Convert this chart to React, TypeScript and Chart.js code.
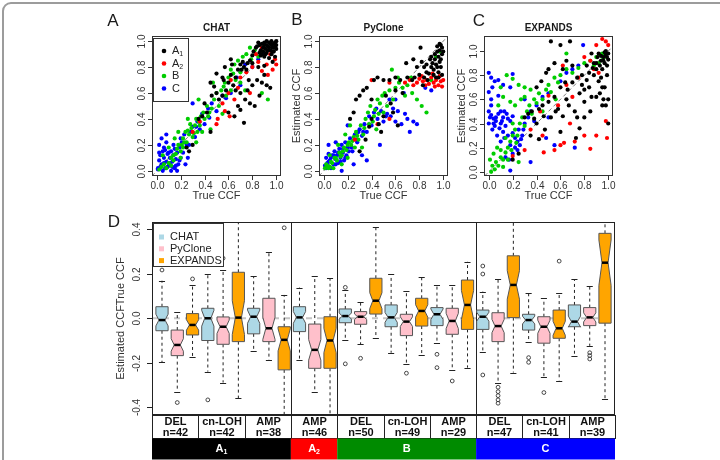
import React, { useEffect, useRef } from "react";
import { Chart, registerables } from "chart.js";

Chart.register(...registerables);

const W = 720;
const H = 460;
const FONT = "'Liberation Sans', Arial, Helvetica, sans-serif";
const INK = "#1a1a1a";

// ---------- Panels A-C: true vs estimated CCF, [true, estimated] ----------
const chatA1: number[][] = [
  [0.88, 0.98], [0.9, 0.99], [0.92, 1.0], [0.94, 0.99], [0.96, 1.0], [0.98, 0.98], [1.0, 1.0], [0.99, 0.96],
  [0.97, 0.95], [0.95, 0.93], [0.93, 0.96], [0.91, 0.94], [0.89, 0.95], [0.87, 0.93], [0.86, 0.97], [0.85, 0.99],
  [0.98, 0.92], [1.0, 0.94], [0.96, 0.9], [0.92, 0.91], [0.9, 0.88], [0.94, 0.87], [0.99, 0.88], [0.97, 0.84],
  [0.87, 0.89], [0.83, 0.95], [0.81, 0.92], [0.72, 0.84], [0.7, 0.82], [0.73, 0.8], [0.68, 0.78], [0.75, 0.78],
  [0.78, 0.85], [0.8, 0.83], [0.62, 0.74], [0.6, 0.68], [0.64, 0.66], [0.66, 0.62], [0.7, 0.6], [0.74, 0.55],
  [0.78, 0.52], [0.82, 0.5], [0.86, 0.58], [0.88, 0.68], [0.92, 0.66], [0.95, 0.64], [0.9, 0.74], [0.84, 0.7],
  [0.8, 0.66], [0.76, 0.62], [0.58, 0.62], [0.55, 0.58], [0.52, 0.55], [0.5, 0.6], [0.48, 0.65], [0.45, 0.68],
  [0.56, 0.7], [0.6, 0.45], [0.65, 0.42], [0.73, 0.37], [0.68, 0.5], [0.4, 0.52], [0.42, 0.45], [0.38, 0.42],
  [0.35, 0.4], [0.45, 0.3], [0.3, 0.2], [0.27, 0.15], [0.25, 0.18], [0.57, 0.8], [0.62, 0.86], [0.5, 0.75],
  [0.55, 0.72], [0.46, 0.58], [0.66, 0.72], [0.77, 0.7], [0.9, 0.81], [0.7, 0.47],
  [0.84, 0.96], [0.86, 0.91], [0.88, 0.9], [0.9, 0.97], [0.92, 0.97], [0.94, 0.95], [0.96, 0.97], [0.98, 0.95],
  [1.0, 0.97], [0.99, 0.99], [0.95, 0.98], [0.93, 0.93], [0.91, 0.9], [0.97, 0.92], [0.89, 0.92], [0.8, 0.89],
  [0.76, 0.83], [0.71, 0.78], [0.85, 0.8], [0.63, 0.82],
];
const chatA2: number[][] = [
  [0.88, 0.95], [0.95, 0.9], [0.99, 0.86], [1.0, 0.82], [0.92, 0.82], [0.85, 0.84], [0.8, 0.8], [0.75, 0.76],
  [0.7, 0.72], [0.62, 0.7], [0.6, 0.6], [0.68, 0.64], [0.78, 0.6], [0.55, 0.52], [0.51, 0.4], [0.61, 0.42],
  [0.36, 0.38], [0.3, 0.3], [0.5, 0.36], [0.97, 0.78], [0.93, 0.74], [0.88, 0.77], [0.65, 0.55], [0.57, 0.46],
  [0.83, 0.9],
];
const chatB: number[][] = [
  [0.02, 0.01], [0.04, 0.03], [0.06, 0.05], [0.08, 0.02], [0.1, 0.06], [0.12, 0.1], [0.14, 0.08], [0.16, 0.13],
  [0.18, 0.2], [0.2, 0.15], [0.22, 0.25], [0.24, 0.3], [0.25, 0.22], [0.27, 0.28], [0.29, 0.33], [0.3, 0.26],
  [0.32, 0.35], [0.34, 0.3], [0.35, 0.38], [0.37, 0.42], [0.4, 0.4], [0.42, 0.5], [0.44, 0.45], [0.46, 0.48],
  [0.48, 0.55], [0.5, 0.6], [0.52, 0.5], [0.54, 0.62], [0.56, 0.65], [0.58, 0.58], [0.6, 0.72], [0.62, 0.78],
  [0.65, 0.82], [0.68, 0.85], [0.72, 0.88], [0.75, 0.9], [0.78, 0.95], [0.82, 0.93], [0.85, 0.88], [0.88, 0.6],
  [0.93, 0.55], [0.7, 0.68], [0.66, 0.7], [0.45, 0.32], [0.38, 0.3], [0.28, 0.36], [0.15, 0.25], [0.1, 0.18],
  [0.2, 0.1], [0.55, 0.44], [0.62, 0.62], [0.47, 0.68], [0.35, 0.55], [0.26, 0.4], [0.05, 0.12], [0.12, 0.04],
  [0.33, 0.22], [0.22, 0.18], [0.18, 0.3],
  [0.14, 0.12], [0.17, 0.17], [0.21, 0.2], [0.23, 0.22], [0.26, 0.31], [0.31, 0.29], [0.33, 0.4], [0.36, 0.35],
  [0.39, 0.45], [0.43, 0.42], [0.57, 0.68], [0.64, 0.75], [0.7, 0.76], [0.79, 0.86], [0.74, 0.62],
];
const chatC: number[][] = [
  [0.01, 0.02], [0.02, 0.08], [0.03, 0.12], [0.04, 0.05], [0.05, 0.15], [0.06, 0.1], [0.07, 0.02], [0.08, 0.07],
  [0.09, 0.13], [0.1, 0.04], [0.11, 0.1], [0.12, 0.15], [0.13, 0.07], [0.14, 0.12], [0.15, 0.02], [0.16, 0.09],
  [0.17, 0.14], [0.18, 0.05], [0.19, 0.18], [0.2, 0.1], [0.21, 0.22], [0.22, 0.14], [0.23, 0.28], [0.25, 0.2],
  [0.26, 0.1], [0.28, 0.3], [0.3, 0.34], [0.32, 0.26], [0.34, 0.38], [0.36, 0.32], [0.38, 0.44], [0.4, 0.36],
  [0.43, 0.48], [0.46, 0.52], [0.5, 0.46], [0.55, 0.58], [0.58, 0.56], [0.62, 0.6], [0.67, 0.72], [0.7, 0.66],
  [0.74, 0.82], [0.8, 0.8], [0.85, 0.86], [0.9, 0.9], [0.02, 0.2], [0.04, 0.25], [0.08, 0.22], [0.01, 0.01],
  [0.05, 0.0], [0.12, 0.0], [0.17, 0.0], [0.3, 0.52], [0.08, 0.28], [0.14, 0.2], [0.24, 0.05], [0.06, 0.18],
  [0.03, 0.03], [0.06, 0.06], [0.09, 0.03], [0.11, 0.06], [0.13, 0.03], [0.07, 0.16], [0.1, 0.14], [0.15, 0.17],
  [0.19, 0.08], [0.2, 0.25], [0.16, 0.04], [0.02, 0.14], [0.27, 0.2], [0.33, 0.34], [0.44, 0.41],
];

const pycloneA1: number[][] = [
  [0.98, 0.97], [0.99, 0.95], [0.97, 0.93], [0.95, 0.92], [0.96, 0.88], [0.99, 0.9], [0.93, 0.86], [0.97, 0.84],
  [0.94, 0.82], [0.98, 0.8], [0.92, 0.78], [0.9, 0.8], [0.96, 0.76], [0.99, 0.74], [0.88, 0.75], [0.86, 0.82],
  [0.9, 0.88], [0.94, 0.72], [0.82, 0.84], [0.78, 0.8], [0.8, 0.74], [0.76, 0.72], [0.84, 0.72], [0.87, 0.7],
  [0.83, 0.66], [0.45, 0.72], [0.5, 0.7], [0.55, 0.7], [0.42, 0.7], [0.6, 0.72], [0.64, 0.7], [0.7, 0.72],
  [0.74, 0.7], [0.3, 0.58], [0.27, 0.55], [0.33, 0.62], [0.36, 0.64], [0.69, 0.83], [0.81, 0.95], [0.75, 0.86],
  [0.6, 0.62], [0.56, 0.52], [0.5, 0.42], [0.46, 0.36], [0.4, 0.4], [0.38, 0.34], [0.25, 0.45], [0.22, 0.4],
  [0.48, 0.3], [0.62, 0.35], [0.3, 0.15], [0.35, 0.24], [0.52, 0.58], [0.4, 0.55], [0.66, 0.6], [0.58, 0.45],
  [0.95, 0.96], [0.97, 0.98], [0.93, 0.9], [0.98, 0.86], [0.95, 0.8], [0.91, 0.83], [0.89, 0.86], [1.0, 0.92],
  [0.96, 0.72], [0.92, 0.74], [0.86, 0.76], [0.84, 0.8],
];
const pycloneA2: number[][] = [
  [0.72, 0.7], [0.75, 0.66], [0.78, 0.68], [0.8, 0.71], [0.83, 0.69], [0.86, 0.7], [0.88, 0.67], [0.9, 0.72],
  [0.92, 0.68], [0.94, 0.7], [0.96, 0.66], [0.98, 0.69], [1.0, 0.7], [0.97, 0.73], [0.93, 0.65], [0.85, 0.66],
  [0.82, 0.73], [0.68, 0.68], [0.55, 0.68], [0.4, 0.7], [0.45, 0.36], [0.55, 0.4], [0.26, 0.24], [0.99, 0.65],
  [0.91, 0.75],
];
const pycloneB: number[][] = [
  [0.01, 0.02], [0.03, 0.04], [0.05, 0.03], [0.07, 0.06], [0.09, 0.1], [0.11, 0.08], [0.13, 0.14], [0.15, 0.12],
  [0.17, 0.18], [0.19, 0.16], [0.21, 0.22], [0.23, 0.2], [0.25, 0.26], [0.27, 0.3], [0.29, 0.24], [0.31, 0.35],
  [0.33, 0.28], [0.35, 0.4], [0.37, 0.45], [0.39, 0.5], [0.41, 0.38], [0.43, 0.47], [0.45, 0.55], [0.47, 0.52],
  [0.49, 0.58], [0.51, 0.6], [0.53, 0.5], [0.55, 0.62], [0.58, 0.55], [0.6, 0.64], [0.63, 0.68], [0.66, 0.64],
  [0.7, 0.66], [0.74, 0.6], [0.78, 0.55], [0.82, 0.5], [0.86, 0.45], [0.9, 0.7], [0.94, 0.88], [0.97, 0.92],
  [0.62, 0.72], [0.57, 0.78], [0.08, 0.02], [0.15, 0.05], [0.2, 0.1], [0.12, 0.2], [0.26, 0.18], [0.32, 0.18],
  [0.22, 0.35], [0.18, 0.28], [0.44, 0.32], [0.5, 0.45], [0.68, 0.58], [0.73, 0.72], [0.05, 0.12],
  [0.02, 0.05], [0.04, 0.02], [0.06, 0.07], [0.1, 0.1], [0.14, 0.11], [0.16, 0.15], [0.2, 0.2], [0.24, 0.23],
  [0.28, 0.27], [0.34, 0.33], [0.38, 0.36], [0.42, 0.42], [0.46, 0.44],
];
const pycloneC: number[][] = [
  [0.01, 0.04], [0.02, 0.1], [0.03, 0.06], [0.04, 0.13], [0.05, 0.08], [0.06, 0.02], [0.07, 0.12], [0.08, 0.05],
  [0.09, 0.15], [0.1, 0.09], [0.11, 0.12], [0.12, 0.06], [0.13, 0.17], [0.14, 0.1], [0.15, 0.2], [0.16, 0.14],
  [0.17, 0.08], [0.18, 0.22], [0.19, 0.12], [0.2, 0.18], [0.22, 0.25], [0.24, 0.15], [0.26, 0.28], [0.28, 0.22],
  [0.3, 0.32], [0.32, 0.27], [0.34, 0.36], [0.36, 0.3], [0.38, 0.42], [0.4, 0.35], [0.42, 0.45], [0.45, 0.4],
  [0.48, 0.46], [0.5, 0.38], [0.53, 0.44], [0.56, 0.42], [0.58, 0.48], [0.6, 0.38], [0.62, 0.46], [0.65, 0.36],
  [0.68, 0.44], [0.7, 0.4], [0.72, 0.3], [0.75, 0.38], [0.78, 0.36], [0.85, 0.64], [0.9, 0.62], [0.2, 0.35],
  [0.1, 0.22], [0.04, 0.2], [0.32, 0.12], [0.25, 0.05], [0.15, 0.0], [0.47, 0.2], [0.55, 0.55], [0.6, 0.55],
  [0.67, 0.6], [0.36, 0.08],
  [0.02, 0.02], [0.04, 0.07], [0.06, 0.1], [0.08, 0.12], [0.1, 0.05], [0.12, 0.14], [0.14, 0.07], [0.16, 0.17],
  [0.18, 0.1], [0.21, 0.15], [0.23, 0.18], [0.27, 0.24], [0.29, 0.3], [0.33, 0.3], [0.44, 0.48], [0.52, 0.42],
];

const expandsA1: number[][] = [
  [0.3, 0.45], [0.33, 0.48], [0.36, 0.5], [0.38, 0.44], [0.4, 0.4], [0.42, 0.52], [0.45, 0.55], [0.47, 0.35],
  [0.5, 0.58], [0.52, 0.45], [0.55, 0.62], [0.58, 0.52], [0.6, 0.7], [0.62, 0.46], [0.65, 0.6], [0.67, 0.55],
  [0.7, 0.74], [0.72, 0.5], [0.74, 0.45], [0.76, 0.65], [0.78, 0.8], [0.8, 0.58], [0.82, 0.88], [0.84, 0.7],
  [0.86, 0.62], [0.88, 0.9], [0.9, 0.85], [0.92, 0.75], [0.94, 0.92], [0.96, 0.95], [0.98, 0.97], [1.0, 0.93],
  [0.99, 0.88], [0.97, 0.9], [0.95, 0.85], [0.93, 0.65], [0.96, 0.6], [0.98, 0.55], [1.0, 0.4], [0.91, 0.95],
  [0.86, 0.98], [0.88, 0.8], [0.82, 0.76], [0.78, 0.72], [0.74, 0.78], [0.7, 0.88], [0.65, 0.92], [0.6, 1.05],
  [0.68, 1.08], [0.52, 1.08], [0.5, 0.85], [0.55, 0.9], [0.44, 0.75], [0.48, 0.82], [0.4, 0.7], [0.62, 0.85],
  [0.85, 0.5], [0.8, 0.45], [0.76, 0.36], [0.6, 0.33], [0.35, 0.3], [0.42, 0.27], [0.25, 0.15], [0.2, 0.1],
  [0.73, 0.28], [0.95, 0.7], [0.98, 1.0], [0.9, 0.62],
  [0.92, 0.98], [0.94, 0.96], [0.96, 0.92], [0.99, 0.95], [1.0, 0.98], [0.97, 0.99], [0.9, 0.9], [0.87, 0.86],
  [0.93, 0.88], [0.99, 0.8], [0.97, 0.7], [0.94, 0.78], [0.8, 0.68], [0.84, 0.82], [0.66, 0.68], [0.56, 0.5],
  [0.46, 0.46], [0.64, 0.74], [1.0, 0.6], [0.95, 0.55],
];
const expandsA2: number[][] = [
  [0.2, 0.13], [0.3, 0.18], [0.45, 0.3], [0.55, 0.18], [0.6, 0.22], [0.63, 0.24], [0.72, 0.25], [0.8, 0.3],
  [0.85, 0.19], [0.9, 0.3], [0.98, 0.42], [0.99, 0.28], [0.43, 0.5], [0.5, 0.63], [0.58, 0.55], [0.65, 0.72],
  [0.7, 0.62], [0.8, 0.95], [0.85, 0.92], [0.9, 1.05], [0.95, 1.1], [0.98, 1.08], [1.0, 1.05], [0.62, 0.88],
  [0.75, 0.78], [0.88, 0.85], [0.35, 0.35], [0.46, 0.16], [0.68, 0.4], [0.92, 0.82],
];
const expandsB: number[][] = [
  [0.02, 0.0], [0.05, 0.02], [0.03, 0.05], [0.06, 0.08], [0.08, 0.05], [0.1, 0.12], [0.12, 0.1], [0.14, 0.16],
  [0.1, 0.18], [0.16, 0.2], [0.18, 0.25], [0.2, 0.3], [0.22, 0.35], [0.24, 0.3], [0.26, 0.4], [0.28, 0.45],
  [0.3, 0.38], [0.32, 0.5], [0.34, 0.55], [0.36, 0.48], [0.38, 0.6], [0.4, 0.57], [0.42, 0.65], [0.45, 0.6],
  [0.48, 0.68], [0.5, 0.72], [0.52, 0.66], [0.55, 0.78], [0.58, 0.74], [0.6, 0.8], [0.65, 0.85], [0.7, 0.82],
  [0.75, 0.86], [0.8, 0.9], [0.85, 0.92], [0.9, 0.95], [0.95, 0.98], [0.97, 0.96], [0.92, 0.9], [0.1, 0.7],
  [0.12, 0.62], [0.15, 0.8], [0.2, 0.77], [0.25, 0.72], [0.3, 0.7], [0.35, 0.68], [0.08, 0.55], [0.18, 0.58],
  [0.22, 0.55], [0.14, 0.28], [0.04, 0.15], [0.01, 0.1], [0.07, 0.2], [0.12, 0.04], [0.2, 0.4], [0.27, 0.6],
  [0.65, 0.98], [0.45, 0.5], [0.3, 0.62], [0.56, 0.6], [0.25, 0.08],
  [0.93, 0.97], [0.96, 0.94], [0.98, 0.98], [0.88, 0.88], [0.16, 0.1], [0.19, 0.18], [0.23, 0.24],
];
const expandsC: number[][] = [
  [0.0, 0.82], [0.02, 0.78], [0.05, 0.75], [0.08, 0.76], [0.0, 0.66], [0.03, 0.7], [0.02, 0.6], [0.08, 0.63],
  [0.12, 0.72], [0.2, 0.81], [0.18, 0.7], [0.0, 0.5], [0.02, 0.47], [0.04, 0.44], [0.06, 0.42], [0.08, 0.48],
  [0.1, 0.4], [0.12, 0.45], [0.14, 0.38], [0.05, 0.38], [0.03, 0.35], [0.0, 0.4], [0.1, 0.5], [0.15, 0.48],
  [0.18, 0.42], [0.2, 0.46], [0.07, 0.3], [0.12, 0.33], [0.16, 0.3], [0.2, 0.32], [0.22, 0.28], [0.18, 0.22],
  [0.2, 0.15], [0.22, 0.2], [0.24, 0.25], [0.26, 0.22], [0.25, 0.35], [0.28, 0.3], [0.3, 0.4], [0.33, 0.45],
  [0.35, 0.5], [0.38, 0.42], [0.1, 0.25], [0.14, 0.12], [0.17, 0.1], [0.35, 0.08], [0.18, 0.01], [0.4, 0.55],
  [0.45, 0.62], [0.5, 0.65], [0.48, 0.28], [0.55, 0.22], [0.6, 0.75], [0.65, 0.82], [0.7, 0.85], [0.75, 0.88],
  [0.79, 1.05], [0.72, 0.2], [0.3, 0.6], [0.5, 0.45], [0.02, 0.55],
  [0.06, 0.45], [0.09, 0.36], [0.11, 0.42], [0.13, 0.5], [0.16, 0.44], [0.01, 0.45], [0.04, 0.4], [0.13, 0.28],
  [0.24, 0.18], [0.27, 0.27], [0.29, 0.35],
];

const cloneBase = ["A", "A", "B", "C"];
const cloneSub = ["1", "2", "", ""];
const cloneDotColors = ["#000000", "#FF0000", "#00CD00", "#0000FF"];
const ccfTicks = [0, 0.2, 0.4, 0.6, 0.8, 1.0];
const ccfTickLabels = ["0.0", "0.2", "0.4", "0.6", "0.8", "1.0"];

// ---------- Panel D: estimated minus true CCF per CNA type ----------
const methods = ["CHAT", "PyClone", "EXPANDS"];
const methodColors = ["#ADD8E6", "#FFC0CB", "#FFA500"];
const cnaTypes = ["DEL", "cn-LOH", "AMP", "AMP", "DEL", "cn-LOH", "AMP", "DEL", "cn-LOH", "AMP"];
const cnaCounts = [42, 42, 38, 46, 50, 49, 29, 47, 41, 39];
const bandBase = ["A", "A", "B", "C"];
const bandSub = ["1", "2", "", ""];
const bandSpan = [3, 1, 3, 3];
const bandColors = ["#000000", "#FF0000", "#008B00", "#0000FF"];
// [lower whisker, Q1, median, Q3, upper whisker]
const chatStats: number[][] = [
  [-0.198, -0.056, -0.008, 0.052, 0.169], [-0.24, -0.1, 0.0, 0.045, 0.2], [-0.145, -0.07, 0.007, 0.045, 0.19],
  [-0.187, -0.06, 0.004, 0.052, 0.138], [-0.097, -0.02, 0.01, 0.042, 0.127], [-0.155, -0.038, 0.004, 0.06, 0.198],
  [-0.112, -0.033, 0.018, 0.048, 0.15], [-0.15, -0.05, 0.007, 0.037, 0.12], [-0.105, -0.053, -0.008, 0.018, 0.115],
  [-0.168, -0.038, -0.015, 0.06, 0.175],
];
const pycloneStats: number[][] = [
  [-0.33, -0.168, -0.12, -0.053, 0.027], [-0.289, -0.117, -0.038, 0.006, 0.217], [-0.187, -0.105, -0.045, 0.09, 0.3],
  [-0.331, -0.225, -0.142, -0.026, 0.19], [-0.117, -0.027, 0.007, 0.03, 0.072], [-0.207, -0.078, -0.015, 0.018, 0.124],
  [-0.232, -0.072, -0.012, 0.045, 0.15], [-0.289, -0.105, -0.035, 0.025, 0.175], [-0.262, -0.112, -0.038, 0.007, 0.09],
  [-0.124, -0.033, 0.004, 0.048, 0.145],
];
const expandsStats: number[][] = [
  [-0.172, -0.075, -0.03, 0.021, 0.15], [-0.36, -0.105, 0.003, 0.207, 0.47], [-0.47, -0.232, -0.097, -0.038, 0.105],
  [-0.46, -0.225, -0.1, 0.007, 0.18], [-0.09, 0.019, 0.079, 0.18, 0.409], [-0.165, -0.035, 0.033, 0.09, 0.187],
  [-0.222, -0.05, 0.06, 0.172, 0.254], [-0.244, 0.003, 0.15, 0.281, 0.5], [-0.28, -0.09, -0.045, 0.037, 0.112],
  [-0.364, -0.022, 0.25, 0.382, 0.55],
];
const chatOutliers: number[][] = [[0.217], [-0.367], [], [], [0.139, -0.205], [], [-0.162, -0.222], [0.235, 0.199, -0.255], [-0.177, -0.198], []];
const pycloneOutliers: number[][] = [[-0.379], [0.27], [], [], [-0.18], [-0.247], [-0.282], [-0.31, -0.33, -0.348, -0.367, -0.382], [-0.334], [-0.155, -0.168, -0.183]];
const expandsOutliers: number[][] = [[0.177], [], [0.407], [], [], [], [], [], [0.257], []];
const diffTicks = [-0.4, -0.2, 0, 0.2, 0.4];
const diffTickLabels = ["-0.4", "-0.2", "0.0", "0.2", "0.4"];

// ---------- drawing helpers ----------
type Ctx = CanvasRenderingContext2D;

function vText(ctx: Ctx, text: string, x: number, y: number, font: string, color = INK) {
  ctx.save();
  ctx.translate(x, y);
  ctx.rotate(-Math.PI / 2);
  ctx.font = font;
  ctx.fillStyle = color;
  ctx.textAlign = "center";
  ctx.textBaseline = "middle";
  ctx.fillText(text, 0, 0);
  ctx.restore();
}

function hText(ctx: Ctx, text: string, x: number, y: number, font: string, color = INK, align: CanvasTextAlign = "center") {
  ctx.font = font;
  ctx.fillStyle = color;
  ctx.textAlign = align;
  ctx.textBaseline = "middle";
  ctx.fillText(text, x, y);
}

function subText(ctx: Ctx, base: string, sub: string, x: number, y: number, size: number, color: string, bold: boolean, center: boolean) {
  const w = bold ? "bold " : "";
  const bf = `${w}${size}px ${FONT}`;
  const sf = `${w}${Math.round(size * 0.68)}px ${FONT}`;
  ctx.font = bf;
  const bw = ctx.measureText(base).width;
  ctx.font = sf;
  const sw = sub ? ctx.measureText(sub).width : 0;
  const x0 = center ? x - (bw + sw) / 2 : x;
  ctx.fillStyle = color;
  ctx.textAlign = "left";
  ctx.textBaseline = "middle";
  ctx.font = bf;
  ctx.fillText(base, x0, y);
  if (sub) {
    ctx.font = sf;
    ctx.fillText(sub, x0 + bw, y + size * 0.32);
  }
}

type ScatterPanel = {
  letter: string;
  title: string;
  series: number[][][];
  box: number[];
  yRange: number[];
  letterPos: number[];
  yTitle: boolean;
  legend: boolean;
};

const scatterPanels: ScatterPanel[] = [
  { letter: "A", title: "CHAT", series: [chatA1, chatA2, chatB, chatC], box: [152, 36, 281, 176], yRange: [-0.04, 1.04], letterPos: [113, 21], yTitle: false, legend: true },
  { letter: "B", title: "PyClone", series: [pycloneA1, pycloneA2, pycloneB, pycloneC], box: [319, 36, 448, 176], yRange: [-0.04, 1.04], letterPos: [297, 20], yTitle: true, legend: false },
  { letter: "C", title: "EXPANDS", series: [expandsA1, expandsA2, expandsB, expandsC], box: [484, 36, 613, 176], yRange: [-0.035, 1.125], letterPos: [479, 21], yTitle: true, legend: false },
];

function scatterDecor(p: ScatterPanel) {
  return {
    id: "decor" + p.letter,
    beforeDatasetsDraw(chart: any) {
      const { ctx, chartArea: a, scales } = chart;
      const x = scales.x;
      const y = scales.y;
      ctx.save();
      ctx.beginPath();
      ctx.rect(a.left, a.top, a.right - a.left, a.bottom - a.top);
      ctx.clip();
      ctx.setLineDash([4, 3]);
      ctx.strokeStyle = "#7a7a7a";
      ctx.lineWidth = 1;
      ctx.beginPath();
      ctx.moveTo(x.getPixelForValue(-0.2), y.getPixelForValue(-0.2));
      ctx.lineTo(x.getPixelForValue(1.3), y.getPixelForValue(1.3));
      ctx.stroke();
      ctx.restore();
    },
    afterDraw(chart: any) {
      const { ctx, chartArea: a, scales } = chart;
      const x = scales.x;
      const y = scales.y;
      ctx.save();
      ctx.strokeStyle = "#333";
      ctx.lineWidth = 1;
      ctx.strokeRect(a.left + 0.5, a.top + 0.5, a.right - a.left - 1, a.bottom - a.top - 1);
      const tickFont = `10px ${FONT}`;
      ccfTicks.forEach((v, i) => {
        const px = Math.round(x.getPixelForValue(v)) + 0.5;
        ctx.beginPath();
        ctx.moveTo(px, a.bottom);
        ctx.lineTo(px, a.bottom + 4);
        ctx.stroke();
        hText(ctx, ccfTickLabels[i], px, a.bottom + 10, tickFont, "#333");
        const py = Math.round(y.getPixelForValue(v)) + 0.5;
        ctx.beginPath();
        ctx.moveTo(a.left, py);
        ctx.lineTo(a.left - 4, py);
        ctx.stroke();
        vText(ctx, ccfTickLabels[i], a.left - 10, py, tickFont, "#333");
      });
      const cx = (a.left + a.right) / 2;
      hText(ctx, p.title, cx, a.top - 8, `bold 10px ${FONT}`, INK);
      hText(ctx, "True CCF", cx, a.bottom + 20, `11px ${FONT}`, "#333");
      if (p.yTitle) vText(ctx, "Estimated CCF", a.left - 22, (a.top + a.bottom) / 2, `11px ${FONT}`, "#333");
      hText(ctx, p.letter, p.letterPos[0], p.letterPos[1], `17px ${FONT}`, INK);
      if (p.legend) {
        const lx = a.left + 1;
        const ly = a.top + 2;
        ctx.fillStyle = "#fff";
        ctx.fillRect(lx, ly, 35, 63);
        ctx.strokeStyle = "#333";
        ctx.strokeRect(lx + 0.5, ly + 0.5, 35, 63);
        cloneBase.forEach((b, i) => {
          const ry = ly + 13 + i * 12.5;
          ctx.fillStyle = cloneDotColors[i];
          ctx.beginPath();
          ctx.arc(lx + 11, ry, 2.3, 0, Math.PI * 2);
          ctx.fill();
          subText(ctx, b, cloneSub[i], lx + 19, ry, 11, "#222", false, false);
        });
      }
      ctx.restore();
    },
  };
}

function makeScatter(canvas: HTMLCanvasElement, p: ScatterPanel) {
  return new Chart(canvas, {
    type: "scatter",
    data: {
      datasets: p.series.map((pts, i) => ({
        data: pts.map(([tx, ey]) => ({ x: tx, y: ey })),
        pointRadius: 2.1,
        pointBackgroundColor: cloneDotColors[i],
        pointBorderColor: cloneDotColors[i],
        pointBorderWidth: 0,
        clip: false as any,
      })),
    },
    options: {
      responsive: false,
      animation: false,
      events: [],
      layout: { padding: { left: p.box[0], top: p.box[1], right: W - p.box[2], bottom: H - p.box[3] } },
      scales: {
        x: { type: "linear", min: -0.04, max: 1.04, display: false },
        y: { type: "linear", min: p.yRange[0], max: p.yRange[1], display: false },
      },
      plugins: { legend: { display: false }, tooltip: { enabled: false } },
    },
    plugins: [scatterDecor(p)],
  } as any);
}

const boxStats = [chatStats, pycloneStats, expandsStats];
const boxOutliers = [chatOutliers, pycloneOutliers, expandsOutliers];
const D_BOX = [152, 222, 615, 415];

const boxDecor = {
  id: "boxDecor",
  beforeDatasetsDraw(chart: any) {
    const { ctx, chartArea: a, scales } = chart;
    const x = scales.x;
    const y = scales.y;
    const cellW = (a.right - a.left) / cnaTypes.length;
    ctx.save();
    ctx.beginPath();
    ctx.rect(a.left, a.top, a.right - a.left, a.bottom - a.top);
    ctx.clip();
    // zero reference line
    ctx.setLineDash([6, 5]);
    ctx.strokeStyle = "#c4c4c4";
    ctx.lineWidth = 2;
    const y0 = y.getPixelForValue(0);
    ctx.beginPath();
    ctx.moveTo(a.left, y0);
    ctx.lineTo(a.right, y0);
    ctx.stroke();
    ctx.setLineDash([]);
    // subclone separators
    ctx.strokeStyle = "#222";
    ctx.lineWidth = 1;
    let k = 0;
    bandSpan.slice(0, -1).forEach((s) => {
      k += s;
      const px = Math.round(a.left + k * cellW) + 0.5;
      ctx.beginPath();
      ctx.moveTo(px, a.top);
      ctx.lineTo(px, a.bottom);
      ctx.stroke();
    });
    // notched boxes
    boxStats.forEach((stats, m) => {
      stats.forEach((s, c) => {
        const [lo, q1, med, q3, hi] = s;
        const pos = c * 3 + m + 1;
        const xl = x.getPixelForValue(pos - 0.4);
        const xr = x.getPixelForValue(pos + 0.4);
        const xm = x.getPixelForValue(pos);
        const nw = (xr - xl) / 4;
        const notch = (1.58 * (q3 - q1)) / Math.sqrt(cnaCounts[c]);
        const Y = (v: number) => y.getPixelForValue(v);
        // whiskers
        ctx.strokeStyle = "#222";
        ctx.lineWidth = 1;
        ctx.setLineDash([3, 3]);
        ctx.beginPath();
        ctx.moveTo(xm, Y(q3));
        ctx.lineTo(xm, Y(hi));
        ctx.moveTo(xm, Y(q1));
        ctx.lineTo(xm, Y(lo));
        ctx.stroke();
        ctx.setLineDash([]);
        ctx.beginPath();
        ctx.moveTo(xm - nw, Math.round(Y(hi)) + 0.5);
        ctx.lineTo(xm + nw, Math.round(Y(hi)) + 0.5);
        ctx.moveTo(xm - nw, Math.round(Y(lo)) + 0.5);
        ctx.lineTo(xm + nw, Math.round(Y(lo)) + 0.5);
        ctx.stroke();
        // box body
        ctx.beginPath();
        ctx.moveTo(xl, Y(q1));
        ctx.lineTo(xl, Y(med - notch));
        ctx.lineTo(xl + nw, Y(med));
        ctx.lineTo(xl, Y(med + notch));
        ctx.lineTo(xl, Y(q3));
        ctx.lineTo(xr, Y(q3));
        ctx.lineTo(xr, Y(med + notch));
        ctx.lineTo(xr - nw, Y(med));
        ctx.lineTo(xr, Y(med - notch));
        ctx.lineTo(xr, Y(q1));
        ctx.closePath();
        ctx.fillStyle = methodColors[m];
        ctx.fill();
        ctx.strokeStyle = "#555";
        ctx.stroke();
        ctx.strokeStyle = "#000";
        ctx.lineWidth = 2.5;
        ctx.beginPath();
        ctx.moveTo(xl + nw, Y(med));
        ctx.lineTo(xr - nw, Y(med));
        ctx.stroke();
      });
    });
    ctx.restore();
  },
  afterDraw(chart: any) {
    const { ctx, chartArea: a, scales } = chart;
    const y = scales.y;
    const cellW = (a.right - a.left) / cnaTypes.length;
    ctx.save();
    ctx.strokeStyle = "#222";
    ctx.lineWidth = 1;
    ctx.strokeRect(a.left + 0.5, a.top + 0.5, a.right - a.left - 1, a.bottom - a.top - 1);
    diffTicks.forEach((v, i) => {
      const py = Math.round(y.getPixelForValue(v)) + 0.5;
      ctx.beginPath();
      ctx.moveTo(a.left, py);
      ctx.lineTo(a.left - 5, py);
      ctx.stroke();
      vText(ctx, diffTickLabels[i], a.left - 15, py, `10px ${FONT}`, "#333");
    });
    vText(ctx, "Estimated CCFTrue CCF", a.left - 31, (a.top + a.bottom) / 2, `11px ${FONT}`, "#333");
    hText(ctx, "D", 114, 222, `17px ${FONT}`, INK);
    // legend
    const lx = a.left + 1;
    const ly = a.top + 1;
    ctx.fillStyle = "#fff";
    ctx.fillRect(lx, ly, 70, 43);
    ctx.strokeStyle = "#333";
    ctx.strokeRect(lx + 0.5, ly + 0.5, 70, 43);
    methods.forEach((name, i) => {
      const ry = ly + 14 + i * 11.8;
      ctx.fillStyle = methodColors[i];
      ctx.fillRect(lx + 6, ry - 2.5, 5, 5);
      hText(ctx, name, lx + 17, ry, `11px ${FONT}`, "#222", "left");
    });
    // CNA type cells
    const cellTop = a.bottom;
    const cellBot = a.bottom + 23;
    ctx.fillStyle = "#fff";
    ctx.fillRect(a.left, cellTop, a.right - a.left, cellBot - cellTop);
    ctx.strokeStyle = "#222";
    cnaTypes.forEach((t, c) => {
      const x0 = Math.round(a.left + c * cellW) + 0.5;
      const x1 = Math.round(a.left + (c + 1) * cellW) + 0.5;
      ctx.strokeRect(x0, cellTop + 0.5, x1 - x0, cellBot - cellTop);
      const cx = (x0 + x1) / 2;
      hText(ctx, t, cx, cellTop + 6.5, `bold 11px ${FONT}`, "#111");
      hText(ctx, "n=" + cnaCounts[c], cx, cellTop + 18, `bold 11px ${FONT}`, "#111");
    });
    // subclone band
    const bandTop = cellBot + 0.5;
    const bandBot = bandTop + 21;
    let k = 0;
    bandSpan.forEach((s, g) => {
      const x0 = a.left + k * cellW;
      const x1 = a.left + (k + s) * cellW;
      ctx.fillStyle = bandColors[g];
      ctx.fillRect(x0, bandTop, x1 - x0, bandBot - bandTop);
      subText(ctx, bandBase[g], bandSub[g], (x0 + x1) / 2, (bandTop + bandBot) / 2, 11, "#fff", true, true);
      k += s;
    });
    ctx.restore();
  },
};

function makeBoxes(canvas: HTMLCanvasElement) {
  return new Chart(canvas, {
    type: "scatter",
    data: {
      datasets: boxOutliers.map((outs, m) => ({
        data: outs.flatMap((vals, c) => vals.map((v) => ({ x: c * 3 + m + 1, y: v }))),
        pointRadius: 1.9,
        pointBackgroundColor: "rgba(0,0,0,0)",
        pointBorderColor: "#333",
        pointBorderWidth: 0.9,
      })),
    },
    options: {
      responsive: false,
      animation: false,
      events: [],
      layout: { padding: { left: D_BOX[0], top: D_BOX[1], right: W - D_BOX[2], bottom: H - D_BOX[3] } },
      scales: {
        x: { type: "linear", min: 0.346, max: 30.654, display: false },
        y: { type: "linear", min: -0.435, max: 0.433, display: false },
      },
      plugins: { legend: { display: false }, tooltip: { enabled: false } },
    },
    plugins: [boxDecor],
  } as any);
}

const layer: React.CSSProperties = { position: "absolute", left: 0, top: 0, width: W, height: H };

export default function App() {
  const refA = useRef<HTMLCanvasElement>(null);
  const refB = useRef<HTMLCanvasElement>(null);
  const refC = useRef<HTMLCanvasElement>(null);
  const refD = useRef<HTMLCanvasElement>(null);

  useEffect(() => {
    const charts: Chart[] = [];
    [refA, refB, refC].forEach((r, i) => {
      if (r.current) charts.push(makeScatter(r.current, scatterPanels[i]));
    });
    if (refD.current) charts.push(makeBoxes(refD.current));
    return () => charts.forEach((c) => c.destroy());
  }, []);

  return (
    <div style={{ position: "absolute", left: 0, top: 0, width: W, height: H, overflow: "hidden", background: "#fff" }}>
      <div
        style={{
          position: "absolute",
          left: 2,
          top: 2,
          width: 740,
          height: 480,
          border: "2px solid #9c9c9c",
          borderRadius: 9,
          boxSizing: "border-box",
        }}
      />
      <canvas ref={refA} width={W} height={H} style={layer} />
      <canvas ref={refB} width={W} height={H} style={layer} />
      <canvas ref={refC} width={W} height={H} style={layer} />
      <canvas ref={refD} width={W} height={H} style={layer} />
    </div>
  );
}
